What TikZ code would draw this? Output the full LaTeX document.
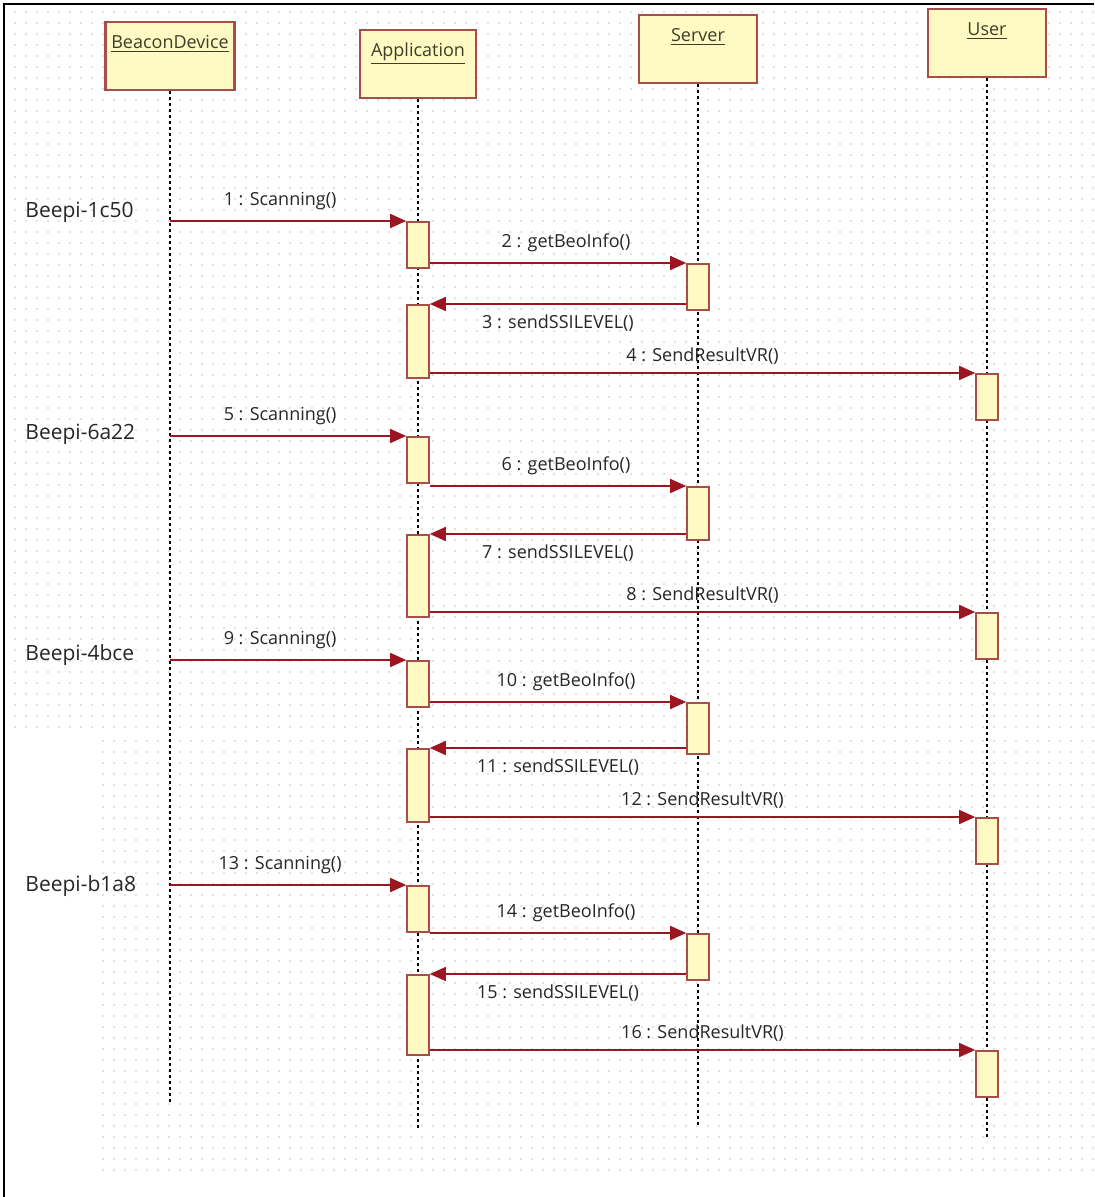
\documentclass[tikz,border=0pt]{standalone}
\usepackage{fontspec}
\setmainfont{Open Sans}
\usetikzlibrary{arrows.meta}
\definecolor{msgred}{RGB}{155,22,32}
\definecolor{boxline}{RGB}{168,78,72}
\definecolor{boxfill}{RGB}{255,250,196}
\definecolor{headtext}{RGB}{62,62,40}
\definecolor{dotgray}{RGB}{226,226,226}
\begin{document}
\begin{tikzpicture}[x=.5pt,y=-.5pt,
  head/.style={draw=boxline,line width=1.2pt,fill=boxfill,anchor=north,inner xsep=0pt,inner ysep=0pt,
    minimum width=#1,text height=13pt,text depth=21pt,font=\fontsize{9}{10}\selectfont,text=headtext},
  life/.style={black,line width=.6pt,dash pattern=on 1.5pt off 1.5pt},
  act/.style={draw=boxline,line width=.8pt,fill=boxfill,anchor=north,minimum width=11pt,inner sep=0pt},
  msg/.style={msgred,line width=.8pt,-{Triangle[length=8pt,width=7pt]}},
  lbl/.style={text=black!85,font=\fontsize{9}{10}\selectfont,inner sep=1pt},
  dev/.style={anchor=west,font=\fontsize{10.5}{12}\selectfont,text=black!85,inner sep=0pt}]
\useasboundingbox (0,0) rectangle (1094,1197);
\foreach \y in {12,23,...,730}
  \draw[dotgray,line width=1pt,dash pattern=on 1pt off 4.5pt] (14,\y) -- (1094,\y);
\foreach \y in {741,752,...,1170}
  \draw[dotgray,line width=1pt,dash pattern=on 1pt off 4.5pt] (102,\y) -- (1094,\y);
\draw[black,line width=1pt] (4,1197) -- (4,4) -- (1094,4);
\node[head=64.5pt] (bd) at (170,21) {\underline{BeaconDevice}};
\node[head=58pt] (app) at (418,29) {\underline{Application}};
\node[head=59pt] (srv) at (698,14) {\underline{Server}};
\node[head=59pt] (usr) at (987,8) {\underline{User}};
\foreach \n/\e in {bd/1103,app/1130,srv/1125,usr/1140} {
  \coordinate (\n end) at (\n.south |- 0,\e);
  \draw[life] (\n.south) -- (\n end);
}
\foreach \g/\dev/\yl/\ya/\yb/\yc/\yd in {1/Beepi-1c50/212/221/263/304/373,
    2/Beepi-6a22/434/436/486/534/612,
    3/Beepi-4bce/655/660/702/748/817,
    4/Beepi-b1a8/886/885/933/974/1050} {
  \pgfmathtruncatemacro\ma{4*\g-3}
  \pgfmathtruncatemacro\mb{4*\g-2}
  \pgfmathtruncatemacro\mc{4*\g-1}
  \pgfmathtruncatemacro\md{4*\g}
  \node[dev] (dev\g) at (25,\yl) {\dev};
  \coordinate (src\g) at (bd.south |- 0,\ya);
  \node[act,minimum height=23pt] (scan\g) at (app.south |- 0,\ya) {};
  \node[act,minimum height={(\yc-\yb+5)*.5pt}] (info\g) at (srv.south |- 0,\yb) {};
  \node[act,minimum height={(\yd-\yc+4)*.5pt}] (reply\g) at (app.south |- 0,\yc) {};
  \node[act,minimum height=23pt] (show\g) at (usr.south |- 0,\yd) {};
  \draw[msg] (src\g) -- node[lbl,above=4pt,xshift=-4pt] {\ma\ : Scanning()} (scan\g.north west);
  \draw[msg] (scan\g.east |- info\g.north) -- node[lbl,above=4pt,xshift=4pt] {\mb\ : getBeoInfo()} (info\g.north west);
  \draw[msg] (info\g.west |- reply\g.north) -- node[lbl,below=4pt] {\mc\ : sendSSILEVEL()} (reply\g.north east);
  \draw[msg] (reply\g.east |- show\g.north) -- node[lbl,above=3pt] {\md\ : SendResultVR()} (show\g.north west);
}
\end{tikzpicture}
\end{document}
